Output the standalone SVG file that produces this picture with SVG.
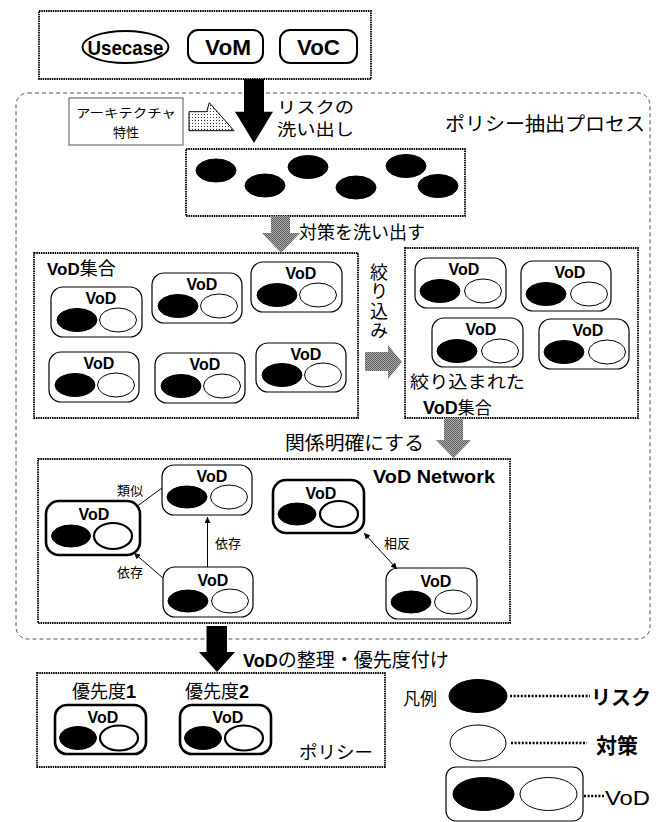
<svg xmlns="http://www.w3.org/2000/svg" width="664" height="822" viewBox="0 0 664 822">
<style>
.dot{fill:none;stroke:#000;stroke-width:1.8;stroke-dasharray:1.5 0.8}
.dash{fill:none;stroke:#555;stroke-width:1;stroke-dasharray:4 3}
.vb{fill:#fff;stroke:#000;stroke-width:1.2}
.vbB{fill:#fff;stroke:#000;stroke-width:2.6}
.rk{fill:#000;stroke:#000;stroke-width:1}
.ms{fill:#fff;stroke:#000;stroke-width:1}
.msB{fill:#fff;stroke:#000;stroke-width:2.2}
.vt{font-family:"Liberation Sans",Arial,sans-serif;font-weight:bold;font-size:16px;text-anchor:middle;fill:#000}
.jp{font-family:"Noto Sans CJK JP",sans-serif;fill:#000}
.b{font-family:"Liberation Sans",Arial,sans-serif;font-weight:bold}
.edge{fill:none;stroke:#000;stroke-width:1}
.lg{fill:none;stroke:#000;stroke-width:2.6;stroke-dasharray:2 1.6}
</style>
<defs>
<pattern id="chk" width="2" height="2" patternUnits="userSpaceOnUse">
<rect width="2" height="2" fill="#b0b0b0"/>
<rect width="1" height="1" fill="#5a5a5a"/>
<rect x="1" y="1" width="1" height="1" fill="#5a5a5a"/>
</pattern>
<pattern id="dots" width="3" height="3" patternUnits="userSpaceOnUse">
<rect width="3" height="3" fill="#fff"/>
<rect width="1" height="1" fill="#333"/>
</pattern>
<marker id="ah" viewBox="0 0 10 10" refX="10" refY="5" markerWidth="7" markerHeight="6" markerUnits="userSpaceOnUse" orient="auto-start-reverse">
<path d="M0,0 L10,5 L0,10 z" fill="#000"/>
</marker>
</defs>

<!-- input box -->
<g id="inputs">
<rect class="dot" x="39" y="11" width="332" height="68"/>
<g id="usecase">
<ellipse cx="125.5" cy="47" rx="43" ry="16" fill="#fff" stroke="#000" stroke-width="2"/>
<text class="b" x="125.5" y="55" font-size="21" text-anchor="middle" textLength="76" lengthAdjust="spacingAndGlyphs">Usecase</text>
</g>
<g id="vom">
<rect x="188" y="30" width="75" height="33" rx="10" fill="#fff" stroke="#000" stroke-width="2"/>
<text class="b" x="228" y="55" font-size="22" text-anchor="middle" textLength="46" lengthAdjust="spacingAndGlyphs">VoM</text>
</g>
<g id="voc">
<rect x="280" y="30" width="77" height="33" rx="10" fill="#fff" stroke="#000" stroke-width="2"/>
<text class="b" x="318.5" y="55" font-size="22" text-anchor="middle" textLength="43" lengthAdjust="spacingAndGlyphs">VoC</text>
</g>
</g>

<!-- process container -->
<g id="process">
<rect class="dash" x="16" y="93" width="634" height="546" rx="12"/>
<text class="jp" x="445" y="131" font-size="19" textLength="200" lengthAdjust="spacingAndGlyphs">ポリシー抽出プロセス</text>
</g>

<g id="arch">
<rect x="69" y="98" width="114" height="47" fill="#fff" stroke="#555" stroke-width="1"/>
<text class="jp" x="126" y="118" font-size="12.5" text-anchor="middle" textLength="100" lengthAdjust="spacingAndGlyphs">アーキテクチャ</text>
<text class="jp" x="126" y="137" font-size="13" text-anchor="middle">特性</text>
<polygon points="189,111.7 206.7,111.7 209.3,102.7 234,130.7 189,130.7" fill="url(#dots)" stroke="#000" stroke-width="1"/>
</g>

<!-- risks -->
<g id="risks">
<rect class="dot" x="186" y="149" width="279" height="67"/>
<ellipse class="rk" cx="216" cy="170.5" rx="20" ry="11.5"/>
<ellipse class="rk" cx="265" cy="185.5" rx="20" ry="11.5"/>
<ellipse class="rk" cx="308" cy="167" rx="20" ry="11.5"/>
<ellipse class="rk" cx="356" cy="187.5" rx="20" ry="11.5"/>
<ellipse class="rk" cx="406" cy="166" rx="20" ry="11.5"/>
<ellipse class="rk" cx="438" cy="186" rx="20" ry="11.5"/>
</g>

<!-- VoD set -->
<g id="vodset">
<rect class="dot" x="34" y="253" width="324" height="165"/>
<text x="47" y="275"><tspan class="b" font-size="17">VoD</tspan><tspan class="jp" font-size="18">集合</tspan></text>
</g>
<g id="a1" transform="translate(51,287)"><rect class="vb" width="91" height="50" rx="12"/><text class="vt" x="50" y="17">VoD</text><ellipse class="rk" cx="26" cy="33" rx="20" ry="11.5"/><ellipse class="ms" cx="67" cy="33" rx="18.5" ry="12"/></g>
<g id="a2" transform="translate(152,273)"><rect class="vb" width="90" height="50" rx="12"/><text class="vt" x="50" y="17">VoD</text><ellipse class="rk" cx="26" cy="33" rx="20" ry="11.5"/><ellipse class="ms" cx="67" cy="33" rx="18.5" ry="12"/></g>
<g id="a3" transform="translate(251,262)"><rect class="vb" width="91" height="50" rx="12"/><text class="vt" x="50" y="17">VoD</text><ellipse class="rk" cx="26" cy="33" rx="20" ry="11.5"/><ellipse class="ms" cx="67" cy="33" rx="18.5" ry="12"/></g>
<g id="a4" transform="translate(49,352)"><rect class="vb" width="90" height="50" rx="12"/><text class="vt" x="50" y="17">VoD</text><ellipse class="rk" cx="26" cy="33" rx="20" ry="11.5"/><ellipse class="ms" cx="67" cy="33" rx="18.5" ry="12"/></g>
<g id="a5" transform="translate(155,353)"><rect class="vb" width="90" height="50" rx="12"/><text class="vt" x="50" y="17">VoD</text><ellipse class="rk" cx="26" cy="33" rx="20" ry="11.5"/><ellipse class="ms" cx="67" cy="33" rx="18.5" ry="12"/></g>
<g id="a6" transform="translate(256,343)"><rect class="vb" width="90" height="49" rx="12"/><text class="vt" x="50" y="17">VoD</text><ellipse class="rk" cx="26" cy="32" rx="20" ry="11.5"/><ellipse class="ms" cx="67" cy="32" rx="18.5" ry="12"/></g>

<!-- refined set -->
<g id="refined">
<rect class="dot" x="405" y="248" width="233" height="170"/>
<text class="jp" x="410" y="388" font-size="17" textLength="115" lengthAdjust="spacingAndGlyphs">絞り込まれた</text>
<text x="423" y="414"><tspan class="b" font-size="18">VoD</tspan><tspan class="jp" font-size="17">集合</tspan></text>
</g>
<g id="b1" transform="translate(415,258)"><rect class="vb" width="91" height="50" rx="12"/><text class="vt" x="49" y="17">VoD</text><ellipse class="rk" cx="25" cy="33" rx="20" ry="11.5"/><ellipse class="ms" cx="68" cy="33" rx="18.5" ry="12"/></g>
<g id="b2" transform="translate(521,261)"><rect class="vb" width="90" height="50" rx="12"/><text class="vt" x="49" y="17">VoD</text><ellipse class="rk" cx="25" cy="33" rx="20" ry="11.5"/><ellipse class="ms" cx="68" cy="33" rx="18.5" ry="12"/></g>
<g id="b3" transform="translate(432,318)"><rect class="vb" width="91" height="49" rx="12"/><text class="vt" x="49" y="17">VoD</text><ellipse class="rk" cx="25" cy="33" rx="20" ry="11.5"/><ellipse class="ms" cx="68" cy="33" rx="18.5" ry="12"/></g>
<g id="b4" transform="translate(539,319)"><rect class="vb" width="90" height="50" rx="12"/><text class="vt" x="49" y="17">VoD</text><ellipse class="rk" cx="25" cy="33" rx="20" ry="11.5"/><ellipse class="ms" cx="68" cy="33" rx="18.5" ry="12"/></g>

<!-- network -->
<g id="network">
<rect class="dot" x="38" y="459" width="472" height="164"/>
<text class="b" x="373" y="483" font-size="18" textLength="122" lengthAdjust="spacingAndGlyphs">VoD Network</text>
</g>
<g id="n1" transform="translate(162,465)"><rect class="vb" width="90" height="50" rx="12"/><text class="vt" x="50" y="17">VoD</text><ellipse class="rk" cx="25" cy="32" rx="20" ry="11"/><ellipse class="ms" cx="67" cy="32" rx="18.5" ry="12"/></g>
<g id="n2" transform="translate(46,501)"><rect class="vbB" width="94" height="54" rx="13"/><text class="vt" x="48" y="19">VoD</text><ellipse class="rk" cx="25" cy="35" rx="19.5" ry="11"/><ellipse class="msB" cx="67" cy="35" rx="19" ry="13"/></g>
<g id="n3" transform="translate(163,567)"><rect class="vb" width="90" height="50" rx="12"/><text class="vt" x="50" y="19">VoD</text><ellipse class="rk" cx="25" cy="34" rx="20" ry="11"/><ellipse class="ms" cx="67" cy="34" rx="18.5" ry="12"/></g>
<g id="n4" transform="translate(273,480)"><rect class="vbB" width="91" height="53" rx="13"/><text class="vt" x="48" y="19">VoD</text><ellipse class="rk" cx="24" cy="34" rx="19" ry="11"/><ellipse class="msB" cx="66" cy="34" rx="19" ry="13"/></g>
<g id="n5" transform="translate(386,568)"><rect class="vb" width="91" height="51" rx="12"/><text class="vt" x="50" y="19">VoD</text><ellipse class="rk" cx="25" cy="34" rx="20" ry="11"/><ellipse class="ms" cx="67" cy="34" rx="18.5" ry="12"/></g>

<!-- policy -->
<g id="policy">
<rect class="dot" x="37" y="673" width="348" height="94"/>
<text x="72" y="698"><tspan class="jp" font-size="18">優先度</tspan><tspan class="b" font-size="18">1</tspan></text>
<text x="185" y="698"><tspan class="jp" font-size="18">優先度</tspan><tspan class="b" font-size="18">2</tspan></text>
<text class="jp" x="299" y="759" font-size="18" textLength="74" lengthAdjust="spacingAndGlyphs">ポリシー</text>
</g>
<g id="p1" transform="translate(55,705)"><rect class="vbB" width="91" height="49" rx="12"/><text class="vt" x="48" y="18">VoD</text><ellipse class="rk" cx="23" cy="33" rx="18.5" ry="11.5"/><ellipse class="msB" cx="64" cy="33" rx="19" ry="12.5"/></g>
<g id="p2" transform="translate(180,705)"><rect class="vbB" width="91" height="49" rx="12"/><text class="vt" x="48" y="18">VoD</text><ellipse class="rk" cx="23" cy="33" rx="18.5" ry="11.5"/><ellipse class="msB" cx="64" cy="33" rx="19" ry="12.5"/></g>

<!-- connectors -->
<g id="connectors">
<polygon points="244,79 264,79 264,111.7 273,111.7 254,143 235,111.7 244,111.7" fill="#000"/>
<text class="jp" x="277" y="113" font-size="16" textLength="77" lengthAdjust="spacingAndGlyphs">リスクの</text>
<text class="jp" x="277" y="135" font-size="16" textLength="77" lengthAdjust="spacingAndGlyphs">洗い出し</text>

<polygon points="271,216 290,216 290,233 300,233 281,253 262,233 271,233" fill="url(#chk)"/>
<text class="jp" x="299" y="239" font-size="18" textLength="126" lengthAdjust="spacingAndGlyphs">対策を洗い出す</text>

<polygon points="365,352 388,352 388,345 402,362 388,379 388,371 365,371" fill="url(#chk)"/>
<text class="jp" x="379" y="263" font-size="18" writing-mode="vertical-rl" letter-spacing="1.5">絞り込み</text>

<polygon points="444,418 463,418 463,440 471,440 453.5,458 436,440 444,440" fill="url(#chk)"/>
<text class="jp" x="285" y="450" font-size="19" textLength="139" lengthAdjust="spacingAndGlyphs">関係明確にする</text>

<line class="edge" x1="136" y1="507" x2="162" y2="488"/>
<text class="jp" x="117" y="495" font-size="13">類似</text>
<line class="edge" x1="207.5" y1="567" x2="207.5" y2="517" stroke="#444" marker-end="url(#ah)"/>
<text class="jp" x="215" y="548" font-size="13">依存</text>
<line class="edge" x1="163" y1="578" x2="134" y2="553" marker-end="url(#ah)"/>
<text class="jp" x="117" y="577" font-size="13">依存</text>
<line class="edge" x1="364" y1="533" x2="397" y2="569" marker-start="url(#ah)" marker-end="url(#ah)"/>
<text class="jp" x="384" y="548" font-size="13">相反</text>

<polygon points="206.5,626 227,626 227,652 235,652 217,672 199,652 206.5,652" fill="#000"/>
<text x="243" y="667"><tspan class="b" font-size="18">VoD</tspan><tspan class="jp" font-size="19">の整理・優先度付け</tspan></text>
</g>

<!-- legend -->
<g id="legend">
<text class="jp" x="403" y="705" font-size="17">凡例</text>
<ellipse class="rk" cx="478" cy="696" rx="29" ry="16.5"/>
<line class="lg" x1="510" y1="696" x2="590" y2="696"/>
<text class="jp" x="591" y="705" font-size="20" font-weight="bold">リスク</text>
<ellipse class="ms" cx="478" cy="743" rx="28" ry="18"/>
<line class="lg" x1="511" y1="743" x2="587" y2="743"/>
<text class="jp" x="596" y="753" font-size="21" font-weight="bold">対策</text>
<rect class="vb" x="446" y="767" width="137" height="54" rx="10"/>
<ellipse class="rk" cx="483.5" cy="794" rx="30.5" ry="16.5"/>
<ellipse class="ms" cx="548.5" cy="794" rx="28.5" ry="16.5"/>
<line class="lg" x1="584" y1="796" x2="604" y2="796"/>
<text x="605" y="805" font-family="Liberation Sans, Arial, sans-serif" font-size="21" textLength="45" lengthAdjust="spacingAndGlyphs">VoD</text>
</g>
</svg>
